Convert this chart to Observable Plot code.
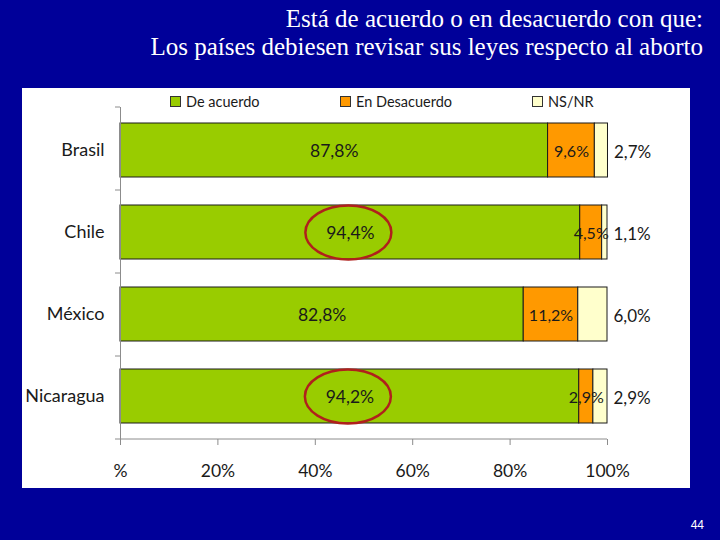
<!DOCTYPE html>
<html><head><meta charset="utf-8">
<script src="https://cdn.jsdelivr.net/npm/d3@7"></script>
<script src="https://cdn.jsdelivr.net/npm/@observablehq/plot@0.6"></script>
<style>
html,body{margin:0;padding:0;}
body{width:720px;height:540px;background:#000099;position:relative;overflow:hidden;font-family:Lato,sans-serif;}
#title{position:absolute;right:17px;top:5px;text-align:right;color:#fff;font-family:"Liberation Serif","Times New Roman",serif;font-size:25px;line-height:28px;white-space:nowrap;}
#panel{position:absolute;left:22px;top:88px;width:668px;height:400px;background:#fff;}
#legend{position:absolute;top:5px;left:0;width:100%;height:18px;font-size:14.5px;color:#1a1a1a;}
.item{position:absolute;top:0;display:flex;align-items:center;gap:5px;white-space:nowrap;}
.sw{width:9px;height:9px;border:1px solid #333;}
#pagenum{position:absolute;right:16px;top:518px;color:#fff;font:12px "Liberation Sans",Arial,sans-serif;}
#chart{position:absolute;left:0;top:0;}
</style></head>
<body>
<div id="title">Está de acuerdo o en desacuerdo con que:<br>Los países debiesen revisar sus leyes respecto al aborto</div>
<div id="panel"><div id="chart"></div><div id="legend"></div></div>
<div id="pagenum">44</div>
<script>
const countries = ["Brasil", "Chile", "México", "Nicaragua"];
const groups = ["De acuerdo", "En Desacuerdo", "NS/NR"];
const acuerdo = [87.8, 94.4, 82.8, 94.2];
const desacuerdo = [9.6, 4.5, 11.2, 2.9];
const nsnr = [2.7, 1.1, 6.0, 2.9];
const xTicks = [0, 20, 40, 60, 80, 100];
const xTickLabels = ["%", "20%", "40%", "60%", "80%", "100%"];
const highlighted = ["Chile", "Nicaragua"];
const colors = ["#99cc00", "#ff9900", "#ffffcc"];

const series = [acuerdo, desacuerdo, nsnr];
const rows = [];
countries.forEach((c, i) => groups.forEach((g, j) => rows.push({country: c, group: g, value: series[j][i]})));
const fmt = v => v.toFixed(1).replace(".", ",") + "%";
const idx = c => countries.indexOf(c);

// legend
const legend = document.getElementById("legend");
const legendLeft = [148, 318, 510];
groups.forEach((g, j) => {
  const it = document.createElement("div");
  it.className = "item";
  it.style.left = legendLeft[j] + "px";
  const sw = document.createElement("span");
  sw.className = "sw"; sw.style.background = colors[j];
  const t = document.createElement("span"); t.textContent = g;
  it.append(sw, t);
  legend.append(it);
});

const ellipseSymbol = {
  draw(ctx) {
    const rx = 43, ry = 27, k = 0.5523;
    ctx.moveTo(rx, 0);
    ctx.bezierCurveTo(rx, ry * k, rx * k, ry, 0, ry);
    ctx.bezierCurveTo(-rx * k, ry, -rx, ry * k, -rx, 0);
    ctx.bezierCurveTo(-rx, -ry * k, -rx * k, -ry, 0, -ry);
    ctx.bezierCurveTo(rx * k, -ry, rx, -ry * k, rx, 0);
    ctx.closePath();
  }
};

function bandFrame(index, scales, values, dims) {
  const g = d3.create("svg:g").attr("stroke", "#8c8c8c").attr("fill", "none");
  const top = dims.marginTop, bottom = dims.height - dims.marginBottom;
  const left = dims.marginLeft, right = dims.width - dims.marginRight;
  const n = countries.length;
  for (let i = 0; i <= n; i++) {
    const yy = top + i * (bottom - top) / n;
    g.append("line").attr("x1", left - 5).attr("x2", left).attr("y1", yy).attr("y2", yy);
  }
  g.append("line").attr("x1", left).attr("x2", right).attr("y1", bottom).attr("y2", bottom);
  return g.node();
}

const chart = Plot.plot({
  width: 668, height: 400,
  marginLeft: 98, marginRight: 83, marginTop: 19, marginBottom: 49,
  x: {domain: [0, 100]},
  y: {domain: countries, paddingInner: 0.337, paddingOuter: 0.169},
  color: {domain: groups, range: colors},
  style: {fontFamily: "Lato, sans-serif", background: "transparent", overflow: "visible"},
  marks: [
    Plot.barX(rows, Plot.stackX({x: "value", y: "country", fill: "group", stroke: "#1a1a1a", strokeWidth: 1})),
    Plot.ruleX([0], {stroke: "#8c8c8c"}),
    bandFrame,
    Plot.axisY({tickSize: 0, tickPadding: 16, fontSize: 18, fill: "#1a1a1a", label: null}),
    Plot.axisX({ticks: xTicks, tickFormat: d => xTickLabels[xTicks.indexOf(d)], tickSize: 6, tickPadding: 19, stroke: "#8c8c8c", fill: "#1a1a1a", fontSize: 17.5, label: null}),
    Plot.text(countries, {x: c => acuerdo[idx(c)] / 2, y: c => c, text: c => fmt(acuerdo[idx(c)]), fontSize: 17.5, fill: "#1a1a1a", dy: 1}),
    Plot.text(countries, {x: c => acuerdo[idx(c)] + desacuerdo[idx(c)] / 2, y: c => c, text: c => fmt(desacuerdo[idx(c)]), fontSize: 16, fill: "#1a1a1a", dy: 1}),
    Plot.text(countries, {x: c => acuerdo[idx(c)] + desacuerdo[idx(c)] + nsnr[idx(c)], y: c => c, text: c => fmt(nsnr[idx(c)]), fontSize: 17, fill: "#1a1a1a", textAnchor: "start", dx: 6, dy: 2}),
    Plot.dot(highlighted, {x: c => acuerdo[idx(c)] / 2, y: c => c, symbol: ellipseSymbol, stroke: "#b0201c", strokeWidth: 2.5, fill: "none", dx: -2})
  ]
});
document.getElementById("chart").append(chart);
</script>
</body></html>
